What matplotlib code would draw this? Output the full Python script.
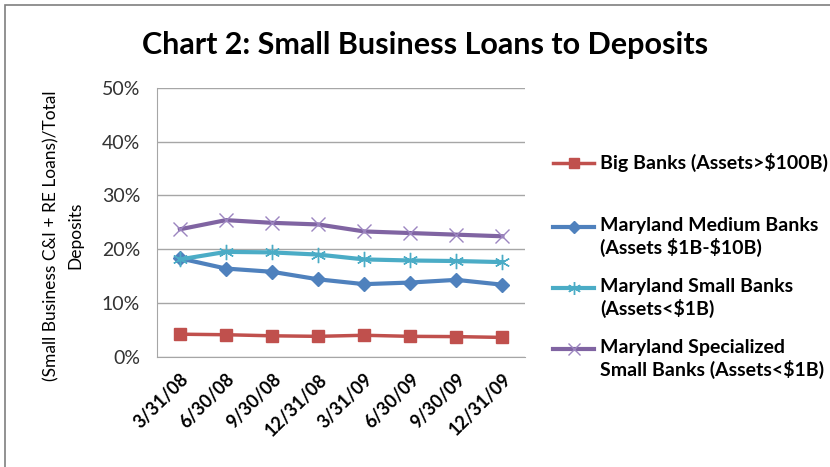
import matplotlib.pyplot as plt
from matplotlib.patches import Rectangle
from matplotlib.lines import Line2D

plt.rcParams['font.family'] = ['Lato', 'DejaVu Sans']

dates = ['3/31/08', '6/30/08', '9/30/08', '12/31/08', '3/31/09', '6/30/09', '9/30/09', '12/31/09']
big_banks = [4.2, 4.1, 3.9, 3.8, 4.0, 3.8, 3.75, 3.6]
medium_banks = [18.3, 16.4, 15.8, 14.4, 13.5, 13.8, 14.3, 13.4]
small_banks = [18.1, 19.5, 19.4, 19.0, 18.1, 17.9, 17.8, 17.6]
specialized_banks = [23.7, 25.4, 24.9, 24.6, 23.3, 23.0, 22.7, 22.4]

labels = [r'Big Banks (Assets>\$100B)',
          'Maryland Medium Banks\n' + r'(Assets \$1B-\$10B)',
          'Maryland Small Banks\n' + r'(Assets<\$1B)',
          'Maryland Specialized\n' + r'Small Banks (Assets<\$1B)']

fig = plt.figure(figsize=(8.3, 4.67), dpi=100)
ax = fig.add_axes([0.189, 0.236, 0.444, 0.576])

# outer frame
fig.patches.append(Rectangle((5 / 830, -0.1), 1.2, 1 - 5 / 467 + 0.1, transform=fig.transFigure,
                             fill=False, edgecolor='#7f7f7f', linewidth=1.2))

styles = [
    dict(color='#c0504d', marker='s', markersize=9, linewidth=2.5),
    dict(color='#4f81bd', marker='D', markersize=7, linewidth=3),
    dict(color='#4bacc6', marker=(6, 2, 0), markersize=11, markeredgewidth=1,
         markeredgecolor='#4bacc6', linewidth=3),
    dict(color='#8064a2', marker='x', markersize=10, markeredgewidth=1,
         markeredgecolor='#9c85c0', linewidth=3),
]
series = [big_banks, medium_banks, small_banks, specialized_banks]

x = list(range(len(dates)))
for vals, st in zip(series, styles):
    ax.plot(x, vals, **st)

ax.set_xlim(-0.5, len(dates) - 0.5)
ax.set_ylim(0, 50)
ax.set_yticks(range(0, 51, 10))
ax.set_yticklabels([f'{v}%' for v in range(0, 51, 10)], fontsize=14, color='#333333')
ax.set_xticks(x)
ax.set_xticklabels(dates, rotation=45, ha='right', rotation_mode='anchor', fontsize=13, fontweight='bold')
ax.tick_params(axis='y', length=0, pad=12)
ax.tick_params(axis='x', length=0, pad=10)
ax.grid(axis='y', color='#a6a6a6', linewidth=1)
ax.set_axisbelow(True)
for s in ['top', 'right']:
    ax.spines[s].set_visible(False)
for s in ['left', 'bottom']:
    ax.spines[s].set_color('#a6a6a6')

ax.set_ylabel('(Small Business C&I + RE Loans)/Total\nDeposits', fontsize=12.5, linespacing=1.6)
ax.yaxis.set_label_coords(-0.2, 0.45)

fig.text(0.512, 0.903, 'Chart 2: Small Business Loans to Deposits', fontsize=22, fontweight='bold',
         ha='center', va='center')

# legend drawn by hand so the sample line sits on the first text line
legend_y = [163, 227, 288, 349]
for lab, st, yy in zip(labels, styles, legend_y):
    fy = 1 - yy / 467
    sample = dict(st)
    sample['markersize'] = sample['markersize'] * 0.85
    fig.add_artist(Line2D([553 / 830, 573.5 / 830, 594 / 830], [fy, fy, fy],
                          transform=fig.transFigure, markevery=[1], **sample))
    fig.text(600 / 830, fy + 0.022, lab, fontsize=14, fontweight='bold', ha='left', va='top',
             linespacing=1.25)

fig.savefig('out.png', dpi=100)
